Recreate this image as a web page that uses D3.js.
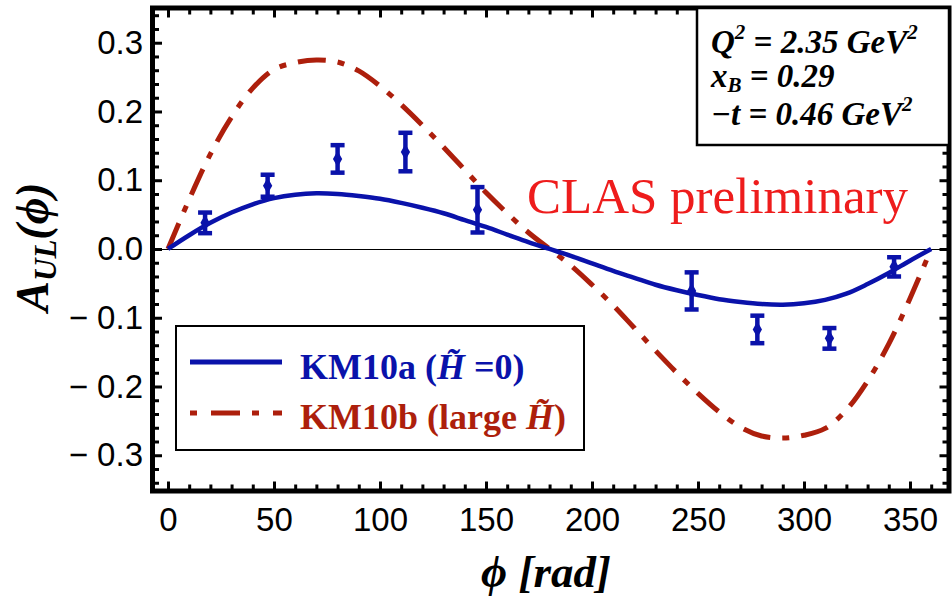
<!DOCTYPE html>
<html>
<head>
<meta charset="utf-8">
<script src="https://cdn.jsdelivr.net/npm/d3@7/dist/d3.min.js"></script>
<style>
  html, body { margin: 0; padding: 0; background: #fff; }
  svg { display: block; }
</style>
</head>
<body>
<script>
// ---------- data ----------
const phiGrid = [0,10,20,30,40,50,60,70,80,90,100,110,120,130,140,150,160,170,180,
                 190,200,210,220,230,240,250,260,270,280,290,300,310,320,330,340,350,360];
const km10a = [0,0.020,0.038,0.053,0.065,0.074,0.079,0.081,0.080,0.077,0.073,0.067,0.060,0.052,0.042,0.032,0.021,0.010,0,
               -0.010,-0.021,-0.032,-0.042,-0.052,-0.060,-0.067,-0.073,-0.077,-0.080,-0.081,-0.079,-0.074,-0.065,-0.051,-0.035,-0.017,0];
const km10b = [0,0.072,0.138,0.192,0.234,0.261,0.271,0.275,0.272,0.259,0.237,0.210,0.180,0.148,0.115,0.082,0.052,0.024,0,
               -0.024,-0.052,-0.082,-0.115,-0.148,-0.180,-0.210,-0.237,-0.259,-0.272,-0.275,-0.271,-0.261,-0.234,-0.192,-0.138,-0.072,0];

const dataPhi = [17.5, 47, 80, 112, 146, 247, 278, 312, 342.5];
const dataA   = [0.038, 0.092, 0.131, 0.141, 0.057, -0.061, -0.117, -0.130, -0.026];
const dataErr = [0.015, 0.016, 0.020, 0.028, 0.033, 0.027, 0.020, 0.015, 0.014];

const xTicks = [0,50,100,150,200,250,300,350];
const yTicks = [-0.3,-0.2,-0.1,0.0,0.1,0.2,0.3];
const legendLabels = ["KM10a (", "KM10b (large "];
const infoLines = ["2.35", "0.29", "0.46"];

// ---------- layout ----------
const W = 952, H = 600;
const L = 152.5, R = 949, T = 8, B = 491;
const BLUE = "#0a12aa", RED = "#ad1f0c";
const SERIF = "'Liberation Serif', 'Times New Roman', serif";
const SANS = "'Liberation Sans', Arial, Helvetica, sans-serif";

const svg = d3.select("body").append("svg").attr("width", W).attr("height", H);

const x = d3.scaleLinear().domain([-7.3, 368.4]).range([L, R]);
const y = d3.scaleLinear().domain([-0.352, 0.3505]).range([B, T]);

// zero line
svg.append("line")
  .attr("x1", L).attr("x2", R).attr("y1", Math.round(y(0)) + 0.5).attr("y2", Math.round(y(0)) + 0.5)
  .attr("stroke", "#000").attr("stroke-width", 1).attr("shape-rendering", "crispEdges");

// curves
const line = d3.line().x((d, i) => x(phiGrid[i])).y(d => y(d)).curve(d3.curveCatmullRom.alpha(0.5));

svg.append("path").datum(km10b)
  .attr("d", line).attr("fill", "none").attr("stroke", RED)
  .attr("stroke-width", 5).attr("stroke-dasharray", "28,12,7,12");

svg.append("path").datum(km10a)
  .attr("d", line).attr("fill", "none").attr("stroke", BLUE)
  .attr("stroke-width", 4.5);

// data points with error bars
const pts = svg.append("g").attr("fill", BLUE).attr("stroke", BLUE);
dataPhi.forEach((p, i) => {
  const cx = x(p), y1 = y(dataA[i] - dataErr[i]), y2 = y(dataA[i] + dataErr[i]);
  pts.append("line").attr("x1", cx).attr("x2", cx).attr("y1", y1).attr("y2", y2).attr("stroke-width", 4.5);
  pts.append("line").attr("x1", cx - 7).attr("x2", cx + 7).attr("y1", y1).attr("y2", y1).attr("stroke-width", 4.5);
  pts.append("line").attr("x1", cx - 7).attr("x2", cx + 7).attr("y1", y2).attr("y2", y2).attr("stroke-width", 4.5);
  pts.append("path").attr("d", d3.symbol(d3.symbolDiamond, 75)())
    .attr("transform", `translate(${cx},${y(dataA[i])})`).attr("stroke", "none");
});

// ---------- frame ticks via axes ----------
const xMinor = d3.range(0, 361, 10).filter(v => v % 50 !== 0);
const yMinor = d3.range(-34, 35, 2).map(v => v / 100).filter(v => Math.round(v * 100) % 10 !== 0);

function styleAxis(g) {
  g.select(".domain").remove();
  g.selectAll(".tick line").attr("stroke", "#000").attr("stroke-width", 3);
}
const fmtY = d => (d < 0 ? "\u2212\u00a0" : "") + Math.abs(d).toFixed(1);

// bottom
svg.append("g").attr("transform", `translate(0,${B})`)
  .call(d3.axisBottom(x).tickValues(xMinor).tickSizeInner(-6.5).tickSizeOuter(0).tickFormat(""))
  .call(styleAxis);
svg.append("g").attr("transform", `translate(0,${B})`)
  .call(d3.axisBottom(x).tickValues(xTicks).tickSizeInner(-9.5).tickSizeOuter(0).tickPadding(17))
  .call(styleAxis)
  .call(g => g.selectAll("text").attr("font-family", SANS).attr("font-size", 33).attr("fill", "#000"));
// top
svg.append("g").attr("transform", `translate(0,${T})`)
  .call(d3.axisTop(x).tickValues(xMinor).tickSizeInner(-6.5).tickSizeOuter(0).tickFormat(""))
  .call(styleAxis);
svg.append("g").attr("transform", `translate(0,${T})`)
  .call(d3.axisTop(x).tickValues(xTicks).tickSizeInner(-9.5).tickSizeOuter(0).tickFormat(""))
  .call(styleAxis);
// left
svg.append("g").attr("transform", `translate(${L},0)`)
  .call(d3.axisLeft(y).tickValues(yMinor).tickSizeInner(-6.5).tickSizeOuter(0).tickFormat(""))
  .call(styleAxis);
svg.append("g").attr("transform", `translate(${L},0)`)
  .call(d3.axisLeft(y).tickValues(yTicks).tickSizeInner(-9.5).tickSizeOuter(0).tickPadding(9.5).tickFormat(fmtY))
  .call(styleAxis)
  .call(g => g.selectAll("text").attr("font-family", SANS).attr("font-size", 33).attr("fill", "#000"));
// right
svg.append("g").attr("transform", `translate(${R},0)`)
  .call(d3.axisRight(y).tickValues(yMinor).tickSizeInner(-6.5).tickSizeOuter(0).tickFormat(""))
  .call(styleAxis);
svg.append("g").attr("transform", `translate(${R},0)`)
  .call(d3.axisRight(y).tickValues(yTicks).tickSizeInner(-9.5).tickSizeOuter(0).tickFormat(""))
  .call(styleAxis);

// frame
svg.append("rect").attr("x", L).attr("y", T).attr("width", R - L).attr("height", B - T)
  .attr("fill", "none").attr("stroke", "#000").attr("stroke-width", 5);

// ---------- axis titles ----------
const yl = svg.append("text")
  .attr("transform", `translate(48,247) rotate(-90)`)
  .attr("text-anchor", "middle")
  .attr("font-family", SERIF).attr("font-weight", "bold").attr("font-style", "italic")
  .attr("font-size", 46).attr("fill", "#000");
yl.append("tspan").text("A");
yl.append("tspan").attr("font-size", 31).attr("dy", 8).text("UL");
yl.append("tspan").attr("dy", -8).text("(\u03D5)");

svg.append("text")
  .attr("x", 546).attr("y", 587).attr("text-anchor", "middle")
  .attr("font-family", SERIF).attr("font-weight", "bold").attr("font-style", "italic")
  .attr("font-size", 45).attr("fill", "#000")
  .text("\u03D5 [rad]");

// ---------- CLAS preliminary ----------
svg.append("text")
  .attr("x", 527).attr("y", 213)
  .attr("font-family", SERIF).attr("font-size", 51).attr("fill", "#ee1c1c")
  .text("CLAS preliminary");

// ---------- info box ----------
svg.append("rect").attr("x", 697).attr("y", T).attr("width", R - 697).attr("height", 145 - T)
  .attr("fill", "#fff").attr("stroke", "#000").attr("stroke-width", 2.5);

const info = svg.append("g")
  .attr("font-family", SERIF).attr("font-weight", "bold").attr("font-style", "italic")
  .attr("font-size", 33).attr("fill", "#000");
const l1 = info.append("text").attr("x", 711).attr("y", 53);
l1.append("tspan").text("Q");
l1.append("tspan").attr("font-size", 21).attr("dy", -14).text("2");
l1.append("tspan").attr("dy", 14).text(" = " + infoLines[0] + " GeV");
l1.append("tspan").attr("font-size", 21).attr("dy", -14).text("2");
const l2 = info.append("text").attr("x", 711).attr("y", 87);
l2.append("tspan").text("x");
l2.append("tspan").attr("font-size", 21).attr("dy", 5).text("B");
l2.append("tspan").attr("dy", -5).text("\u00a0= " + infoLines[1]);
const l3 = info.append("text").attr("x", 711).attr("y", 125);
l3.append("tspan").text("\u2212t = " + infoLines[2] + " GeV");
l3.append("tspan").attr("font-size", 21).attr("dy", -14).text("2");

// ---------- legend ----------
svg.append("rect").attr("x", 176).attr("y", 326).attr("width", 408).attr("height", 124)
  .attr("fill", "#fff").attr("stroke", "#000").attr("stroke-width", 2);
svg.append("line").attr("x1", 190).attr("x2", 282).attr("y1", 362).attr("y2", 362)
  .attr("stroke", BLUE).attr("stroke-width", 5);
svg.append("line").attr("x1", 190).attr("x2", 282).attr("y1", 413).attr("y2", 413)
  .attr("stroke", RED).attr("stroke-width", 5).attr("stroke-dasharray", "7,14,29,12,7,14,10");

const lg = svg.append("g").attr("font-family", SERIF).attr("font-weight", "bold").attr("font-size", 36);
const t1 = lg.append("text").attr("x", 300).attr("y", 379).attr("fill", BLUE);
t1.append("tspan").text(legendLabels[0]);
t1.append("tspan").attr("font-style", "italic").text("H\u0303");
t1.append("tspan").text("\u00a0=0)");
const t2 = lg.append("text").attr("x", 300).attr("y", 429).attr("fill", RED);
t2.append("tspan").text(legendLabels[1]);
t2.append("tspan").attr("font-style", "italic").text("H\u0303");
t2.append("tspan").text(")");
</script>
</body>
</html>
